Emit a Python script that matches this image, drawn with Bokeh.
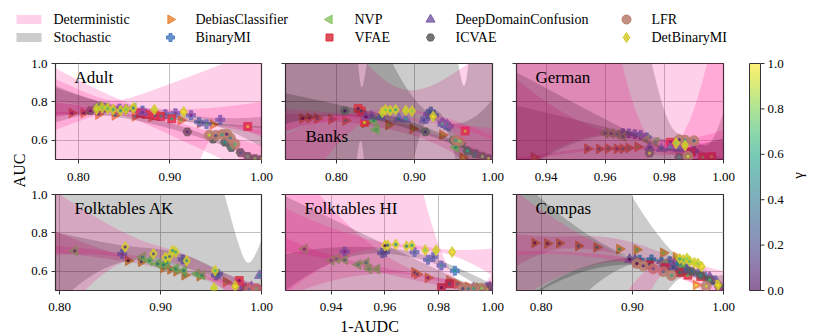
import numpy as np
from bokeh.plotting import figure
from bokeh.models import Range1d, FixedTicker, PrintfTickFormatter, Label, ColumnDataSource, LinearColorMapper
from bokeh.layouts import row, column
from bokeh.palettes import Viridis256
from bokeh.transform import linear_cmap
from bokeh.core.properties import value
from bokeh.embed import file_html
from bokeh.resources import INLINE

# ---------------- data ----------------
METHODS = ["DebiasClassifier", "BinaryMI", "NVP", "VFAE", "DeepDomainConfusion", "ICVAE", "LFR", "DetBinaryMI"]
KEYS = ["debias", "binarymi", "nvp", "vfae", "ddc", "icvae", "lfr", "det"]
STOCHASTIC = ["BinaryMI", "VFAE", "ICVAE"]
COLORS = ["#e8873a", "#4e7fc2", "#8dc66a", "#d8333f", "#7b5ea7", "#5c5c5c", "#b67c6c", "#d3cb2c"]
LEGEND_BANDS = ["Deterministic", "Stochastic"]

DATASETS = ["adult", "banks", "german", "ak", "hi", "compas"]
TITLES = ["Adult", "Banks", "German", "Folktables AK", "Folktables HI", "Compas"]
XRANGES = [(0.775, 1.0), (0.735, 1.0), (0.930, 1.0), (0.796, 1.0), (0.923, 1.0), (0.773, 1.0)]
XTICKS = [[0.8, 0.9, 1.0], [0.8, 0.9, 1.0], [0.94, 0.96, 0.98, 1.0],
          [0.8, 0.9, 1.0], [0.94, 0.96, 0.98, 1.0], [0.8, 0.9, 1.0]]
YTICKS = [0.6, 0.8, 1.0]
CBAR_TICKS = [0.0, 0.2, 0.4, 0.6, 0.8, 1.0]
XLABEL = "1-AUDC"
YLABEL = "AUC"
CBAR_LABEL = "γ"

# Adult
adult_debias_x = [0.793, 0.806, 0.822, 0.840, 0.862, 0.880, 0.912, 0.933, 0.947]
adult_debias_y = [0.742, 0.742, 0.735, 0.730, 0.725, 0.722, 0.705, 0.690, 0.682]
adult_debias_g = [0.0, 0.1, 0.3, 0.5, 0.6, 0.7, 0.8, 0.9, 1.0]
adult_binarymi_x = [0.829, 0.845, 0.852, 0.870, 0.895, 0.906, 0.923, 0.932, 0.940, 0.955]
adult_binarymi_y = [0.770, 0.765, 0.762, 0.755, 0.736, 0.741, 0.731, 0.695, 0.684, 0.707]
adult_binarymi_g = [0.9, 0.6, 0.5, 0.4, 0.3, 0.2, 0.1, 0.5, 0.7, 0.3]
adult_nvp_x = [0.822, 0.830, 0.860]
adult_nvp_y = [0.780, 0.772, 0.770]
adult_nvp_g = [0.6, 0.8, 0.5]
adult_vfae_x = [0.868, 0.874, 0.884, 0.890, 0.902, 0.985]
adult_vfae_y = [0.740, 0.735, 0.728, 0.724, 0.712, 0.672]
adult_vfae_g = [0.0, 0.2, 0.3, 0.5, 0.6, 1.0]
adult_ddc_x = [0.826, 0.870]
adult_ddc_y = [0.765, 0.745]
adult_ddc_g = [0.4, 0.2]
adult_icvae_x = [0.813, 0.919, 0.947, 0.960, 0.967, 0.977, 0.985, 0.993, 1.0]
adult_icvae_y = [0.754, 0.644, 0.606, 0.590, 0.562, 0.536, 0.516, 0.505, 0.500]
adult_icvae_g = [0.0, 0.1, 0.2, 0.5, 0.6, 0.3, 0.7, 0.8, 1.0]
adult_lfr_x = [0.943, 0.950, 0.957, 0.962, 0.966, 0.971]
adult_lfr_y = [0.627, 0.625, 0.630, 0.632, 0.612, 0.580]
adult_lfr_g = [0.9, 0.2, 0.6, 0.1, 0.4, 0.7]
adult_det_x = [0.820, 0.826, 0.832, 0.838, 0.846, 0.852, 0.860, 0.883, 0.915]
adult_det_y = [0.762, 0.770, 0.765, 0.760, 0.755, 0.760, 0.768, 0.760, 0.748]
adult_det_g = [0.9, 0.8, 0.7, 0.6, 0.5, 0.8, 0.4, 0.9, 1.0]

# Banks
banks_debias_x = [0.757, 0.766, 0.776, 0.794, 0.812, 0.837, 0.867, 0.898, 0.936, 0.962]
banks_debias_y = [0.714, 0.716, 0.714, 0.710, 0.703, 0.690, 0.680, 0.660, 0.627, 0.510]
banks_debias_g = [0.0, 0.1, 0.3, 0.5, 0.6, 0.7, 0.8, 0.9, 0.95, 1.0]
banks_binarymi_x = [0.914, 0.918, 0.921, 0.925, 0.936, 0.940, 0.944]
banks_binarymi_y = [0.712, 0.738, 0.750, 0.730, 0.690, 0.680, 0.672]
banks_binarymi_g = [0.3, 0.5, 0.4, 0.6, 0.2, 0.7, 0.5]
banks_nvp_x = [0.848, 0.851, 0.953]
banks_nvp_y = [0.703, 0.656, 0.564]
banks_nvp_g = [0.6, 0.7, 0.6]
banks_vfae_x = [0.828, 0.832, 0.836, 0.965]
banks_vfae_y = [0.766, 0.752, 0.693, 0.648]
banks_vfae_g = [0.1, 0.3, 0.9, 0.9]
banks_ddc_x = [0.838, 0.845, 0.857, 0.880, 0.889, 0.912, 0.936, 0.942]
banks_ddc_y = [0.722, 0.728, 0.722, 0.714, 0.710, 0.705, 0.688, 0.682]
banks_ddc_g = [0.0, 0.3, 0.5, 0.4, 0.6, 0.2, 0.7, 0.5]
banks_icvae_x = [0.811, 0.914, 0.950, 0.960, 0.968, 0.978, 0.987, 0.995]
banks_icvae_y = [0.753, 0.644, 0.600, 0.585, 0.545, 0.530, 0.515, 0.505]
banks_icvae_g = [0.0, 0.1, 0.3, 0.5, 0.6, 0.4, 0.8, 0.9]
banks_lfr_x = [0.953, 0.958]
banks_lfr_y = [0.600, 0.595]
banks_lfr_g = [0.6, 0.8]
banks_det_x = [0.859, 0.863, 0.869, 0.876, 0.889, 0.897, 0.924]
banks_det_y = [0.746, 0.759, 0.755, 0.759, 0.755, 0.752, 0.724]
banks_det_g = [0.9, 0.8, 0.7, 0.6, 0.9, 0.8, 1.0]

# German
german_debias_x = [0.936, 0.954, 0.958, 0.961, 0.964, 0.966, 0.968, 0.971]
german_debias_y = [0.511, 0.556, 0.555, 0.557, 0.556, 0.556, 0.560, 0.566]
german_debias_g = [1.0, 0.3, 0.4, 0.6, 0.2, 0.5, 0.7, 0.8]
german_binarymi_x = [0.966, 0.968, 0.970, 0.972, 0.974, 0.990]
german_binarymi_y = [0.637, 0.636, 0.632, 0.627, 0.615, 0.545]
german_binarymi_g = [0.3, 0.5, 0.4, 0.6, 0.7, 0.5]
german_nvp_x = [0.960, 0.962, 0.964, 0.966, 0.974, 0.977]
german_nvp_y = [0.637, 0.635, 0.632, 0.620, 0.603, 0.590]
german_nvp_g = [0.4, 0.3, 0.6, 0.5, 0.7, 0.6]
german_vfae_x = [0.982, 0.989, 0.993, 0.996]
german_vfae_y = [0.590, 0.538, 0.512, 0.515]
german_vfae_g = [0.0, 0.5, 0.8, 0.9]
german_ddc_x = [0.975, 0.979, 0.982, 0.985]
german_ddc_y = [0.562, 0.558, 0.562, 0.556]
german_ddc_g = [0.2, 0.4, 0.6, 0.5]
german_icvae_x = [0.975, 0.985, 0.988]
german_icvae_y = [0.533, 0.512, 0.514]
german_icvae_g = [0.9, 0.6, 0.8]
german_lfr_x = [0.985, 0.987, 0.990, 0.988]
german_lfr_y = [0.603, 0.600, 0.598, 0.516]
german_lfr_g = [0.1, 0.5, 0.3, 0.9]
german_det_x = [0.984, 0.987]
german_det_y = [0.585, 0.573]
german_det_g = [0.8, 0.9]

# Folktables AK
ak_debias_x = [0.868, 0.881, 0.903, 0.910, 0.916, 0.924, 0.939, 0.965, 0.990]
ak_debias_y = [0.655, 0.650, 0.618, 0.610, 0.600, 0.580, 0.574, 0.544, 0.510]
ak_debias_g = [0.0, 0.2, 0.3, 0.4, 0.5, 0.6, 0.7, 0.8, 1.0]
ak_binarymi_x = [0.862, 0.922, 0.955, 0.957, 0.983]
ak_binarymi_y = [0.690, 0.662, 0.578, 0.585, 0.514]
ak_binarymi_g = [0.2, 0.5, 0.6, 0.4, 0.8]
ak_nvp_x = [0.815, 0.882, 0.889, 0.897, 0.903, 0.906, 0.915, 0.923, 0.936, 0.941]
ak_nvp_y = [0.706, 0.674, 0.655, 0.639, 0.634, 0.645, 0.613, 0.604, 0.587, 0.580]
ak_nvp_g = [0.1, 0.5, 0.6, 0.4, 0.5, 0.7, 0.6, 0.5, 0.7, 0.6]
ak_vfae_x = [0.978, 0.985, 0.995]
ak_vfae_y = [0.552, 0.512, 0.505]
ak_vfae_g = [0.0, 0.5, 0.8]
ak_ddc_x = [0.990, 0.998]
ak_ddc_y = [0.520, 0.578]
ak_ddc_g = [0.3, 0.5]
ak_icvae_x = [0.985, 0.995]
ak_icvae_y = [0.505, 0.510]
ak_icvae_g = [0.6, 0.9]
ak_lfr_x = [0.988, 0.995]
ak_lfr_y = [0.505, 0.510]
ak_lfr_g = [0.4, 0.7]
ak_det_x = [0.865, 0.893, 0.905, 0.909, 0.912, 0.915, 0.926, 0.954, 0.953, 0.974]
ak_det_y = [0.727, 0.691, 0.672, 0.677, 0.708, 0.700, 0.655, 0.604, 0.512, 0.522]
ak_det_g = [0.1, 0.2, 0.4, 0.3, 0.5, 0.6, 0.5, 0.7, 0.9, 1.0]

# Folktables HI
hi_debias_x = [0.971, 0.972, 0.976, 0.984, 0.987, 0.991, 0.995]
hi_debias_y = [0.595, 0.585, 0.566, 0.552, 0.535, 0.520, 0.515]
hi_debias_g = [0.2, 0.3, 0.1, 0.5, 0.6, 0.7, 0.9]
hi_binarymi_x = [0.945, 0.959, 0.960, 0.971, 0.976, 0.978, 0.981, 0.986, 0.998]
hi_binarymi_y = [0.703, 0.695, 0.700, 0.700, 0.660, 0.675, 0.630, 0.603, 0.517]
hi_binarymi_g = [0.1, 0.3, 0.2, 0.4, 0.5, 0.3, 0.6, 0.5, 0.8]
hi_nvp_x = [0.930, 0.940, 0.942, 0.945, 0.950, 0.953, 0.954, 0.957, 0.994]
hi_nvp_y = [0.716, 0.657, 0.665, 0.660, 0.635, 0.645, 0.613, 0.612, 0.510]
hi_nvp_g = [0.1, 0.3, 0.5, 0.4, 0.6, 0.5, 0.7, 0.8, 0.9]
hi_vfae_x = [0.981, 0.984]
hi_vfae_y = [0.515, 0.535]
hi_vfae_g = [0.0, 0.4]
hi_ddc_x = [0.993, 0.999]
hi_ddc_y = [0.515, 0.520]
hi_ddc_g = [0.5, 0.7]
hi_icvae_x = [0.990, 0.994, 0.998]
hi_icvae_y = [0.508, 0.510, 0.505]
hi_icvae_g = [0.3, 0.6, 0.9]
hi_lfr_x = [0.989, 0.991, 0.993, 0.996]
hi_lfr_y = [0.510, 0.508, 0.510, 0.512]
hi_lfr_g = [0.2, 0.4, 0.6, 0.8]
hi_det_x = [0.960, 0.961, 0.964, 0.968, 0.970, 0.975, 0.979, 0.985]
hi_det_y = [0.734, 0.736, 0.740, 0.731, 0.735, 0.710, 0.710, 0.700]
hi_det_g = [0.0, 0.3, 0.5, 0.4, 0.6, 0.8, 0.9, 1.0]

# Compas
compas_debias_x = [0.793, 0.807, 0.820, 0.841, 0.861, 0.886, 0.905, 0.934, 0.948, 0.970]
compas_debias_y = [0.748, 0.745, 0.746, 0.732, 0.725, 0.716, 0.712, 0.696, 0.676, 0.528]
compas_debias_g = [0.0, 0.1, 0.2, 0.4, 0.5, 0.6, 0.7, 0.8, 0.9, 1.0]
compas_binarymi_x = [0.908, 0.921, 0.932, 0.941, 0.950, 0.958, 0.980, 0.989]
compas_binarymi_y = [0.660, 0.662, 0.648, 0.652, 0.640, 0.630, 0.572, 0.552]
compas_binarymi_g = [0.2, 0.4, 0.3, 0.5, 0.6, 0.5, 0.7, 0.8]
compas_nvp_x = [0.935, 0.955]
compas_nvp_y = [0.640, 0.620]
compas_nvp_g = [0.6, 0.7]
compas_vfae_x = [0.905, 0.919, 0.936, 0.952, 0.961, 0.975]
compas_vfae_y = [0.645, 0.633, 0.618, 0.594, 0.580, 0.572]
compas_vfae_g = [0.1, 0.2, 0.4, 0.5, 0.7, 0.9]
compas_ddc_x = [0.897, 0.903, 0.945, 0.960, 0.972, 0.985, 0.992]
compas_ddc_y = [0.662, 0.660, 0.622, 0.608, 0.590, 0.570, 0.548]
compas_ddc_g = [0.0, 0.2, 0.3, 0.5, 0.6, 0.7, 0.9]
compas_icvae_x = [0.965, 0.975, 0.985, 0.995]
compas_icvae_y = [0.600, 0.580, 0.555, 0.520]
compas_icvae_g = [0.3, 0.5, 0.7, 0.9]
compas_lfr_x = [0.905, 0.912, 0.923, 0.934, 0.943, 0.981]
compas_lfr_y = [0.640, 0.628, 0.613, 0.598, 0.578, 0.523]
compas_lfr_g = [0.0, 0.1, 0.3, 0.4, 0.6, 0.9]
compas_det_x = [0.952, 0.956, 0.960, 0.963, 0.968, 0.972, 0.976, 0.994]
compas_det_y = [0.665, 0.660, 0.667, 0.652, 0.645, 0.640, 0.625, 0.528]
compas_det_g = [0.6, 0.7, 0.8, 0.7, 0.9, 0.8, 1.0, 1.0]

# ---------------- styling ----------------
FONT = "Liberation Serif"
DET_FILL = "deeppink"
STO_FILL = "black"
BAND_ALPHA = 0.2
MARKERS = {"DebiasClassifier": ("triangle", -np.pi / 2, 10),
           "BinaryMI": ("plus", 0.0, 9),
           "NVP": ("triangle", np.pi / 2, 10),
           "VFAE": ("square", 0.0, 8),
           "DeepDomainConfusion": ("triangle", 0.0, 10),
           "ICVAE": ("hex", 0.0, 9),
           "LFR": ("circle", 0.0, 10),
           "DetBinaryMI": ("diamond", 0.0, 11)}
T_CRIT = {1: 12.71, 2: 4.30, 3: 3.18, 4: 2.78, 5: 2.57, 6: 2.45, 7: 2.36, 8: 2.31}


def reg_band(xs, ys, grid):
    xs = np.asarray(xs, float)
    ys = np.asarray(ys, float)
    n = len(xs)
    order = min(2, n - 2)
    if order < 1:
        return None
    xm = xs.mean()
    X = np.vander(xs - xm, order + 1)
    beta, *_ = np.linalg.lstsq(X, ys, rcond=None)
    resid = ys - X @ beta
    dof = n - order - 1
    s2 = float(resid @ resid) / dof
    cov = np.linalg.pinv(X.T @ X) * s2
    G = np.vander(grid - xm, order + 1)
    fit = G @ beta
    se = np.sqrt(np.maximum(np.einsum("ij,jk,ik->i", G, cov, G), 0))
    t = T_CRIT.get(dof, 2.0)
    return np.clip(fit - t * se, -2, 3), np.clip(fit + t * se, -2, 3)


def style_axes(p, show_ylabels, x_standoff):
    p.outline_line_color = "#333333"
    p.outline_line_width = 1.2
    p.background_fill_color = "white"
    p.border_fill_color = "white"
    for ax in p.axis:
        ax.axis_line_color = None
        ax.major_tick_out = 4
        ax.major_tick_in = 0
        ax.major_tick_line_color = "#333333"
        ax.minor_tick_line_color = None
        ax.major_label_text_font = FONT
        ax.major_label_text_font_size = "13px"
        ax.major_label_text_color = "black"
    p.xaxis.major_label_standoff = x_standoff
    p.yaxis.major_label_standoff = 4
    if not show_ylabels:
        p.yaxis.major_label_overrides = {t: "" for t in YTICKS}
    p.grid.grid_line_color = "#b0b0b0"
    p.grid.grid_line_width = 0.8


def make_panel(idx, width, height, bl, br, bt, bb, show_ylabels, x_standoff):
    key = DATASETS[idx]
    xr = XRANGES[idx]
    p = figure(width=width, height=height, x_range=Range1d(*xr), y_range=Range1d(0.5, 1.0),
               toolbar_location=None, output_backend="svg",
               min_border_left=bl, min_border_right=br, min_border_top=bt, min_border_bottom=bb)
    p.xaxis.ticker = FixedTicker(ticks=XTICKS[idx])
    p.xaxis.formatter = PrintfTickFormatter(format="%.2f")
    p.yaxis.ticker = FixedTicker(ticks=YTICKS)
    p.yaxis.formatter = PrintfTickFormatter(format="%.1f")
    style_axes(p, show_ylabels, x_standoff)
    grid = np.linspace(xr[0], xr[1], 240)
    for m, k, c in zip(METHODS, KEYS, COLORS):
        xs = globals()[f"{key}_{k}_x"]
        ys = globals()[f"{key}_{k}_y"]
        gs = globals()[f"{key}_{k}_g"]
        b = reg_band(xs, ys, grid)
        if b is not None:
            p.varea(x=grid, y1=b[0], y2=b[1],
                    fill_color=STO_FILL if m in STOCHASTIC else DET_FILL, fill_alpha=BAND_ALPHA)
        src = ColumnDataSource(dict(x=xs, y=ys, g=gs))
        mk, ang, sz = MARKERS[m]
        p.scatter("x", "y", source=src, marker=mk, angle=ang, size=sz,
                  fill_color=c, line_color=c, fill_alpha=0.85, line_alpha=0.9, line_width=0.8)
        p.scatter("x", "y", source=src, marker="circle", size=3.2, line_color=None,
                  fill_color=linear_cmap("g", Viridis256, 0, 1), fill_alpha=0.75)
    title = TITLES[idx]
    yoff = -63 if title == "Banks" else -4
    xoff = 20 if title == "Banks" else 19
    p.add_layout(Label(x=xr[0], y=1.0, x_offset=xoff, y_offset=yoff, text=title, text_baseline="top",
                       text_font=FONT, text_font_size="17px", text_color="black"))
    return p


def blank_fig(width, height, xr, yr):
    f = figure(width=width, height=height, x_range=Range1d(*xr), y_range=Range1d(*yr),
               toolbar_location=None, output_backend="svg", min_border=0,
               x_axis_location=None, y_axis_location=None)
    f.outline_line_color = None
    f.grid.grid_line_color = None
    f.background_fill_color = "white"
    f.border_fill_color = "white"
    return f


# picture geometry (pixels)
ROW_A_H, ROW_B_H = 133, 129
LEG_H, BOT_H = 55, 18
TOTAL_W = 826
MID_TOP = LEG_H
MID_BOT = LEG_H + ROW_A_H + ROW_B_H

f1 = make_panel(0, 245, ROW_A_H, 27, 12, 8, 29, True, 9)
f2 = make_panel(1, 231, ROW_A_H, 12, 12, 8, 29, False, 9)
f3 = make_panel(2, 231, ROW_A_H, 12, 12, 8, 29, False, 9)
f4 = make_panel(3, 245, ROW_B_H, 27, 12, 6, 27, True, 8)
f5 = make_panel(4, 231, ROW_B_H, 12, 12, 6, 27, False, 8)
f6 = make_panel(5, 231, ROW_B_H, 12, 12, 6, 27, False, 8)

# left label strip (x 0..28)
lbl = blank_fig(28, ROW_A_H + ROW_B_H, (0, 28), (MID_BOT, MID_TOP))
lbl.text(x=[19], y=[170], text=[YLABEL], angle=np.pi / 2, text_align="center",
         text_baseline="alphabetic", text_font=value(FONT), text_font_size="16px", text_color="black")

# colour bar strip (x 735..826); the bar spans y 63..290 in pixels
CB_TOP_PX, CB_BOT_PX = 63, 290
g_per_px = 1.0 / (CB_BOT_PX - CB_TOP_PX)
cb = blank_fig(TOTAL_W - 735, ROW_A_H + ROW_B_H, (735, TOTAL_W),
               ((CB_BOT_PX - MID_BOT) * g_per_px, (CB_BOT_PX - MID_TOP) * g_per_px))
cb.image(image=[np.linspace(0, 1, 256).reshape(256, 1)], x=749, y=0, dw=11, dh=1,
         color_mapper=LinearColorMapper(palette=Viridis256, low=0, high=1), global_alpha=0.6)
cb.quad(left=[749], right=[760], bottom=[0], top=[1], fill_color=None, line_color="#333333", line_width=1)
cb.segment(x0=[760] * len(CBAR_TICKS), x1=[764] * len(CBAR_TICKS), y0=CBAR_TICKS, y1=CBAR_TICKS,
           line_color="#333333", line_width=1)
cb.text(x=[767] * len(CBAR_TICKS), y=CBAR_TICKS, text=[f"{t:.1f}" for t in CBAR_TICKS],
        text_font=value(FONT), text_font_size="13px", text_baseline="middle", text_color="black")
cb.text(x=[797], y=[0.507], text=[CBAR_LABEL], angle=np.pi / 2, text_align="center",
        text_baseline="middle", text_font=value(FONT), text_font_size="15px", text_color="black")

# bottom label strip
bot = blank_fig(TOTAL_W, BOT_H, (0, TOTAL_W), (BOT_H, 0))
bot.text(x=[369], y=[0], text=[XLABEL], text_align="center", text_baseline="top",
         text_font=value(FONT), text_font_size="16px", text_color="black")

# legend strip
lf = blank_fig(TOTAL_W, LEG_H, (0, TOTAL_W), (LEG_H, 0))
ROW_Y = [19, 37]
lf.quad(left=[16, 16], right=[41, 41], top=[y - 4.5 for y in ROW_Y], bottom=[y + 4.5 for y in ROW_Y],
        fill_color=[DET_FILL, STO_FILL], fill_alpha=BAND_ALPHA, line_color=None)
lf.text(x=[53, 53], y=ROW_Y, text=LEGEND_BANDS, text_font=value(FONT), text_font_size="14px",
        text_baseline="middle", text_color="black")
COL_MARK_X = [170, 329, 430, 626, 716]
for i, (m, c) in enumerate(zip(METHODS, COLORS)):
    col, r = divmod(i, 2)
    mk, ang, sz = MARKERS[m]
    lf.scatter(x=[COL_MARK_X[col]], y=[ROW_Y[r]], marker=mk, angle=ang, size=sz - 1,
               fill_color=c, line_color=c, fill_alpha=0.85)
    lf.text(x=[COL_MARK_X[col] + 25], y=[ROW_Y[r]], text=[m], text_font=value(FONT),
            text_font_size="14px", text_baseline="middle", text_color="black")

layout = column(lf, row(lbl, column(row(f1, f2, f3), row(f4, f5, f6)), cb), bot)
open("out.html", "w").write(file_html(layout, INLINE))
